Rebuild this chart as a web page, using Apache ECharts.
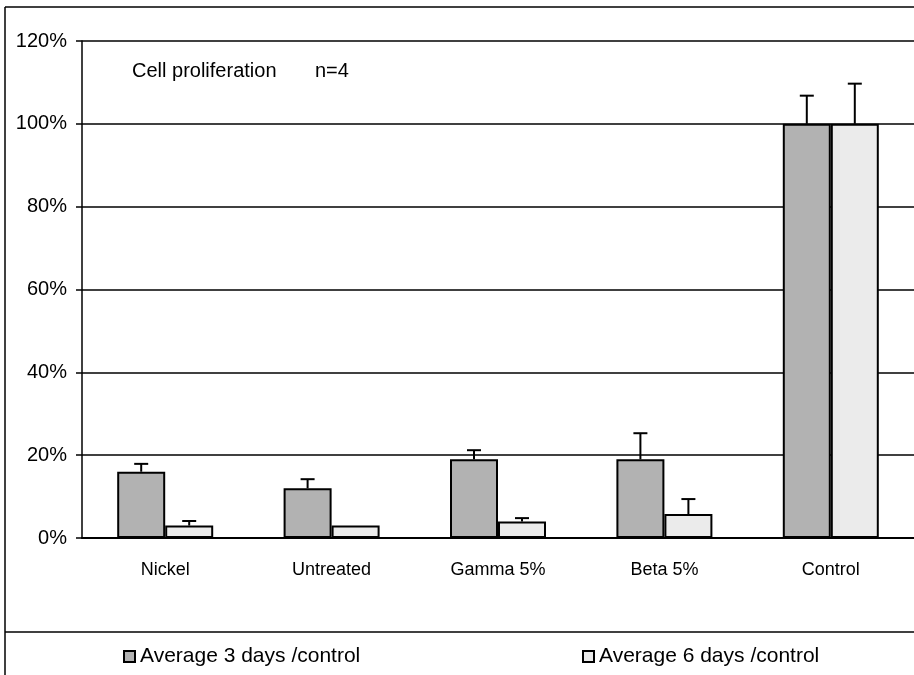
<!DOCTYPE html>
<html lang="en">
<head>
<meta charset="UTF-8">
<title>Cell proliferation</title>
<script src="https://cdn.jsdelivr.net/npm/echarts@6.0.0/dist/echarts.min.js"></script>
<style>
  html, body { margin: 0; padding: 0; background: #fff; }
  #chart { width: 914px; height: 675px; }
</style>
</head>
<body>
<div id="chart"></div>
<script>
// categories and values (fractions of control)
var categories = ['Nickel', 'Untreated', 'Gamma 5%', 'Beta 5%', 'Control'];
var avg3 = [0.16, 0.12, 0.19, 0.19, 1.00];
var avg6 = [0.03, 0.03, 0.04, 0.058, 1.00];
// upper end of the error bars
var err3 = [0.179, 0.142, 0.212, 0.253, 1.068];
var err6 = [0.041, 0.03, 0.048, 0.094, 1.097];

var BAR_W = 48;
var FONT = 'Liberation Sans, Arial, sans-serif';

function errData(vals, tops) {
  return vals.map(function (v, i) { return [i, v, tops[i]]; });
}

// plus-only error bar with a small cap, offset onto its bar
function errRender(offset) {
  return function (params, api) {
    var base = api.value(1), top = api.value(2);
    if (top <= base) return null;
    var x = api.coord([api.value(0), 0])[0] + offset;
    var y0 = api.coord([api.value(0), base])[1];
    var y1 = api.coord([api.value(0), top])[1];
    var st = { stroke: '#000', lineWidth: 2 };
    return {
      type: 'group',
      children: [
        { type: 'line', shape: { x1: x, y1: y0, x2: x, y2: y1 }, style: st },
        { type: 'line', shape: { x1: x - 7, y1: y1, x2: x + 7, y2: y1 }, style: st }
      ]
    };
  };
}

var chart = echarts.init(document.getElementById('chart'));

chart.setOption({
  animation: false,
  textStyle: { fontFamily: FONT, color: '#000' },
  grid: { left: 82, top: 41, width: 845, height: 497, containLabel: false },
  graphic: [
    { type: 'line', shape: { x1: 5, y1: 7, x2: 914, y2: 7 }, style: { stroke: '#000', lineWidth: 1.5 } },
    { type: 'line', shape: { x1: 5, y1: 7, x2: 5, y2: 675 }, style: { stroke: '#000', lineWidth: 1.5 } },
    { type: 'line', shape: { x1: 5, y1: 632, x2: 914, y2: 632 }, style: { stroke: '#000', lineWidth: 1.5 } },
    { type: 'text', left: 132, top: 61,
      style: { text: 'Cell proliferation', font: '20px ' + FONT, fill: '#000' } },
    { type: 'text', left: 315, top: 61,
      style: { text: 'n=4', font: '20px ' + FONT, fill: '#000' } }
  ],
  legend: [
    { data: ['Average 3 days /control'], left: 118, top: 641, itemWidth: 11, itemHeight: 11, itemGap: 6,
      icon: 'rect', textStyle: { fontSize: 21, color: '#000', fontFamily: FONT } },
    { data: ['Average 6 days /control'], left: 577, top: 641, itemWidth: 11, itemHeight: 11, itemGap: 6,
      icon: 'rect', textStyle: { fontSize: 21, color: '#000', fontFamily: FONT } }
  ],
  xAxis: {
    type: 'category',
    data: categories,
    axisLine: { lineStyle: { color: '#000', width: 2 } },
    axisTick: { length: 7, lineStyle: { color: '#000', width: 1.5 } },
    axisLabel: { fontSize: 18, color: '#000', margin: 23 }
  },
  yAxis: {
    type: 'value',
    min: 0, max: 1.2, interval: 0.2,
    axisLine: { show: true, lineStyle: { color: '#000', width: 1.5 } },
    axisTick: { show: true, length: 6, lineStyle: { color: '#000', width: 1.5 } },
    axisLabel: {
      fontSize: 20, color: '#000', margin: 15,
      formatter: function (v) { return Math.round(v * 100) + '%'; }
    },
    splitLine: { lineStyle: { color: '#000', width: 1.5 } }
  },
  series: [
    {
      name: 'Average 3 days /control', type: 'bar', data: avg3,
      barWidth: BAR_W, barGap: '0%',
      itemStyle: { color: '#b2b2b2', borderColor: '#000', borderWidth: 2 }
    },
    {
      name: 'Average 6 days /control', type: 'bar', data: avg6,
      barWidth: BAR_W, barGap: '0%',
      itemStyle: { color: '#ebebeb', borderColor: '#000', borderWidth: 2 }
    },
    {
      type: 'custom', data: errData(avg3, err3), renderItem: errRender(-BAR_W / 2), z: 3,
      encode: { x: 0, y: 2 }
    },
    {
      type: 'custom', data: errData(avg6, err6), renderItem: errRender(BAR_W / 2), z: 3,
      encode: { x: 0, y: 2 }
    }
  ]
});
</script>
</body>
</html>
